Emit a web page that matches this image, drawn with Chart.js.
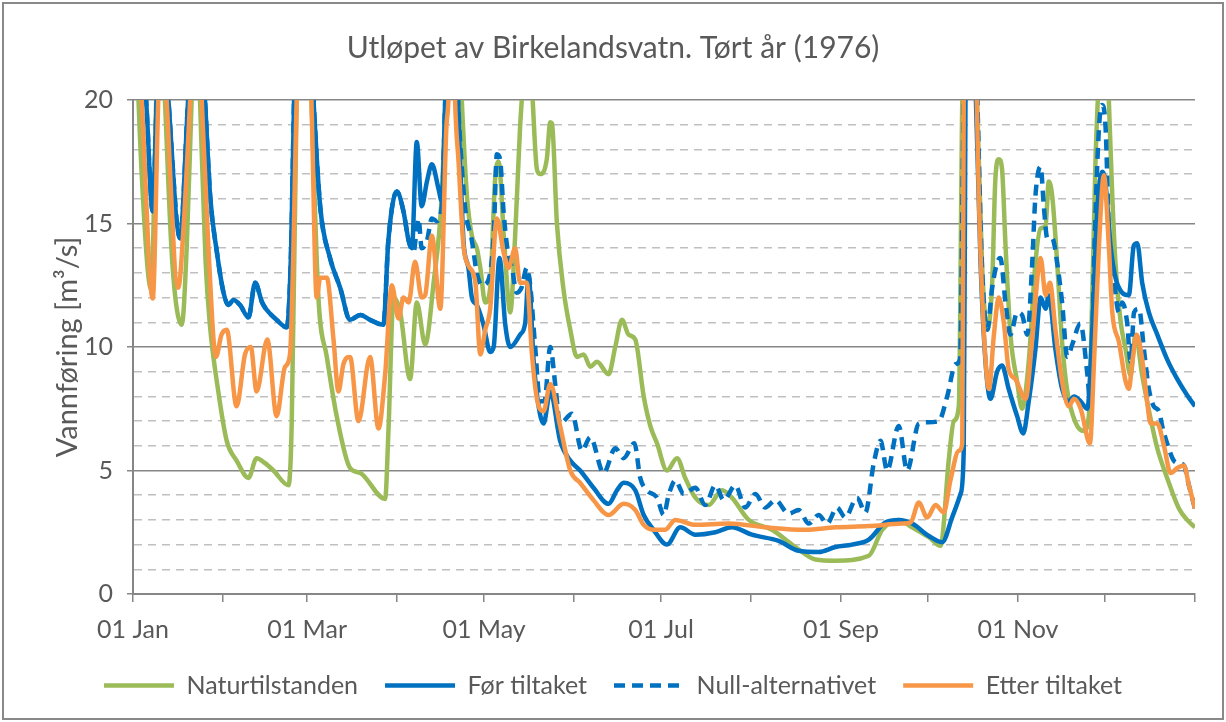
<!DOCTYPE html>
<html>
<head>
<meta charset="utf-8">
<title>Utløpet av Birkelandsvatn</title>
<script src="https://cdn.jsdelivr.net/npm/chart.js@4.4.0/dist/chart.umd.min.js"></script>
<style>
  html, body { margin: 0; padding: 0; background: #fff; }
  #wrap { position: relative; width: 1226px; height: 722px; }
  #frame { position: absolute; left: 2px; top: 2px; width: 1222px; height: 718px; box-sizing: border-box; border: 2px solid #898989; pointer-events: none; }
  canvas { position: absolute; left: 0; top: 0; }
</style>
</head>
<body>
<div id="wrap">
  <canvas id="flowChart" width="1226" height="722"></canvas>
  <div id="frame"></div>
</div>
<script>
// Month starts in 1976 (leap year), day of year counted from 01 Jan = 0
const monthStarts = [0, 31, 60, 91, 121, 152, 182, 213, 244, 274, 305, 335, 366];
const tickLabels = ['01 Jan', '', '01 Mar', '', '01 May', '', '01 Jul', '', '01 Sep', '', '01 Nov', '', ''];

// Naturtilstanden (values above 20 run off the top of the chart)
const naturDays = [0, 3, 6.3, 8, 9.5, 11, 13.5, 16.8, 18.5, 20.2,
  21.7, 23.1, 25, 26.5, 29.4, 32.3, 35.7, 39.8, 42.6, 45.5,
  48.4, 53.6, 54.7, 56.4, 58.5, 61.5, 63.9, 66.8, 70.2, 74.8,
  78.3, 86.9, 88, 89.8, 92.1, 95.5, 97.8, 100.7, 103.6, 106.4,
  108, 110.5, 113.3, 115.1, 116.8, 118.5, 119.7, 121.4, 123.1, 124.8,
  126, 128, 130, 131.7, 133.4, 134.6, 136, 137.5, 139.2, 140.4,
  142.6, 143.8, 144.4, 146.1, 148.4, 150.7, 153, 155.3, 157.6, 159.9,
  163.9, 166.2, 168.5, 170.8, 173.1, 176, 178.3, 180.6, 184, 187.5,
  190.3, 193.8, 198.4, 203, 206.4, 212.2, 220.2, 228.3, 235.2, 242,
  253.6, 258.2, 263.9, 268.5, 274.3, 278.3, 281.2, 282.9, 284.6, 285.8,
  288, 290.9, 292.6, 294.4, 296.1, 297.2, 298.4, 299.5, 300.7, 302.4,
  304.7, 306.4, 308.7, 311, 312.8, 314.5, 315.6, 316.8, 318.5, 320.2,
  322, 324.8, 327.7, 329.4, 330.6, 331.7, 332.5, 334.5, 336.3, 337.5,
  338.6, 340.4, 342.1, 343.8, 345.5, 347.8, 350.7, 353, 356.4, 360.5,
  363.3, 366];
const naturValues = [26, 17, 12.3, 20, 24, 20, 13.5, 10.9, 14, 20,
  25, 20, 13.5, 10.9, 8.2, 6.2, 5.4, 4.7, 5.5, 5.3,
  5.0, 4.4, 6.9, 20, 30, 20, 12.0, 9.6, 7.2, 5.1,
  4.9, 3.85, 6.5, 12.0, 11.4, 8.7, 11.8, 10.1, 12.6, 16.1,
  21, 28, 20, 16.1, 14.5, 14.0, 13.2, 11.8, 12.4, 16.8,
  17.5, 14.1, 11.4, 14.5, 18.9, 21, 23, 20.5, 17.2, 17.0,
  17.6, 19.1, 19.05, 15.0, 12.3, 10.7, 9.6, 9.7, 9.2, 9.4,
  8.9, 10.0, 11.1, 10.5, 10.3, 8.0, 6.8, 6.1, 5.0, 5.5,
  4.7, 3.9, 3.6, 4.2, 3.9, 3.0, 2.6, 1.9, 1.4, 1.35,
  1.55, 2.6, 3.0, 2.7, 2.3, 1.95, 5.5, 7.0, 7.6, 20,
  30, 20, 13.4, 10.7, 12.6, 16.8, 17.6, 17.2, 14.1, 10.5,
  8.6, 7.5, 9.4, 13.4, 14.8, 14.9, 16.7, 16.1, 13.4, 10.2,
  8.2, 6.95, 6.6, 7.2, 12.1, 17.5, 20, 26, 20, 16.1,
  13.4, 11.0, 9.9, 8.85, 10.5, 8.85, 7.1, 5.9, 4.7, 3.45,
  3.0, 2.7];

// Før tiltaket
const forDays = [0, 4.5, 6.8, 8.2, 10, 12.2, 16.2, 19, 22, 24.8,
  26.6, 28.9, 31.2, 32.9, 34.6, 36.9, 39.8, 42.1, 44.5, 46.1,
  49.5, 53, 54.5, 55.5, 58, 62.2, 64.5, 67.9, 71.4, 74.8,
  78.3, 81.7, 86.3, 88, 90.9, 93.2, 95, 96.1, 97.8, 99.5,
  101.3, 103, 105.3, 106.4, 107.6, 109.5, 112, 113.9, 115.6, 116.8,
  118.5, 120.8, 123.1, 124.3, 126.3, 128.3, 130, 133.4, 135.2, 136.3,
  138.1, 139.8, 141.5, 143.8, 147.2, 150.7, 154.1, 158.7, 163.9, 166.8,
  169.1, 173.1, 176, 179.4, 184, 188.6, 193.8, 200.7, 206.4, 213.3,
  222.5, 229.4, 236.3, 242.1, 247.8, 253.6, 259.3, 263.9, 268.5, 274.3,
  278.9, 282.3, 285.2, 286.3, 286.9, 288.5, 290.5, 292.1, 293.8, 295.5,
  297.8, 299.5, 301.8, 304.7, 306.8, 308.7, 311, 312.8, 314.5, 315.6,
  317.9, 320.2, 322.5, 324.3, 326.6, 328.9, 330.6, 332.3, 334, 335,
  336.9, 338.6, 340.9, 343.2, 344.9, 346.1, 347.8, 350.1, 353, 356.4,
  359.9, 363.3, 366];
const forValues = [26, 20, 15.5, 20, 24, 20, 14.4, 20, 25, 20,
  16.1, 13.85, 12.2, 11.7, 11.9, 11.7, 11.2, 12.6, 11.8, 11.5,
  11.1, 10.8, 14, 20, 30, 20, 15.7, 13.6, 12.4, 11.1,
  11.3, 11.1, 10.9, 14.3, 16.3, 15.5, 14.3, 14.0, 18.3, 15.7,
  16.7, 17.4, 16.4, 15.9, 20, 28, 20, 14.3, 13.2, 12.0,
  11.7, 10.9, 9.8, 10.0, 13.6, 10.9, 10.0, 10.5, 11.0, 12.9,
  9.4, 7.6, 6.9, 8.2, 6.2, 5.4, 5.0, 4.3, 3.65, 4.2,
  4.5, 4.2, 3.2, 2.6, 2.0, 2.7, 2.4, 2.5, 2.7, 2.4,
  2.15, 1.75, 1.7, 1.9, 2.0, 2.2, 2.9, 3.0, 2.85, 2.35,
  2.1, 3.1, 4.05, 5.8, 20, 30, 20, 13.4, 9.4, 7.9,
  9.0, 9.25, 8.3, 7.2, 6.5, 7.8, 9.9, 12.0, 11.55, 12.1,
  9.9, 8.3, 7.8, 8.0, 7.8, 7.5, 10.7, 15.5, 17.1, 16.8,
  14.1, 12.8, 12.2, 12.1, 14.1, 14.2, 12.6, 11.4, 10.5, 9.5,
  8.7, 8.05, 7.6];

// Null-alternativet (same as Før tiltaket until early April)
const nullDays = [0, 4.5, 6.8, 8.2, 10, 12.2, 16.2, 19, 22, 24.8,
  26.6, 28.9, 31.2, 32.9, 34.6, 36.9, 39.8, 42.1, 44.5, 46.1,
  49.5, 53, 54.5, 55.5, 58, 62.2, 64.5, 67.9, 71.4, 74.8,
  78.3, 81.7, 86.3, 88, 90.9,
  93.2, 95, 96.7, 97.8, 98.4, 99.5, 101.3, 103, 104.7, 106.4,
  107.6, 109.5, 112, 112.8, 114.5, 116.8, 118.5, 120.2, 122, 124.3,
  125.4, 126.5, 127.7, 128.9, 130.6, 132.3, 133.9, 135.7, 136.8, 138.6,
  140.3, 141.8, 143.8, 145.5, 147.2, 151.3, 154.7, 157.6, 162.2, 166.2,
  169.1, 172.8, 174.8, 177.1, 180.6, 182.9, 184.6, 186.9, 189.8, 193.8,
  197.2, 200.7, 203.6, 207.6, 211, 214.5, 217.9, 221.4, 226, 229.4,
  232.9, 236.3, 239.2, 242.6, 245.5, 249.5, 252.4, 255.3, 257.6, 259.9,
  263.9, 266.8, 270.8, 273.7, 277.7, 280.6, 283.5, 285, 286.3, 288.5,
  291, 292.5, 294.4, 296.1, 297.8, 298.9, 300.7, 302.4, 304.7, 306.4,
  308.2, 309.9, 311, 312.8, 313.9, 315.1, 316.8, 318.5, 320.2, 322,
  323.7, 326.5, 328.9, 330, 331.2, 332.9, 334, 335.2, 336.3, 338,
  339.8, 340.9, 342.6, 343.8, 345, 346.7, 348.4, 350.1, 351.8, 353.6,
  354.7, 356.4, 358.7, 360.5, 362.2, 363.9, 366];
const nullValues = [26, 20, 15.5, 20, 24, 20, 14.4, 20, 25, 20,
  16.1, 13.85, 12.2, 11.7, 11.9, 11.7, 11.2, 12.6, 11.8, 11.5,
  11.1, 10.8, 14, 20, 30, 20, 15.7, 13.6, 12.4, 11.1,
  11.3, 11.1, 10.9, 14.3, 16.3,
  15.5, 14.3, 13.85, 14.8, 15.2, 14.0, 14.3, 15.2, 15.1, 15.7,
  20, 28, 20, 18.2, 15.6, 14.3, 13.0, 12.5, 12.6, 14.5,
  17.8, 17.6, 15.5, 14.1, 13.2, 12.2, 12.4, 13.2, 12.6, 10.0,
  7.8, 7.8, 10.0, 8.5, 6.9, 7.3, 5.8, 6.35, 4.9, 5.9,
  5.5, 6.1, 4.7, 4.2, 3.9, 3.2, 4.0, 4.6, 4.05, 4.3,
  3.6, 4.4, 3.8, 4.4, 3.5, 4.05, 3.5, 3.8, 3.25, 3.4,
  2.85, 3.2, 2.85, 3.5, 3.1, 3.9, 3.3, 5.3, 6.2, 5.0,
  6.8, 5.0, 6.9, 6.95, 7.0, 8.0, 9.3, 9.5, 20, 30,
  20, 13.5, 10.7, 12.4, 13.4, 13.6, 11.8, 10.5, 11.4, 11.3,
  10.5, 13.4, 16.1, 17.3, 15.7, 14.4, 14.4, 13.4, 11.8, 9.6,
  10.1, 10.95, 8.9, 7.6, 13.4, 18.85, 19.8, 18.85, 14.8, 12.8,
  11.4, 11.8, 11.0, 9.4, 11.4, 11.55, 9.9, 8.3, 7.6, 7.4,
  6.8, 6.1, 5.4, 5.3, 5.2, 4.4, 3.45];

// Etter tiltaket
const etterDays = [0, 3, 6.8, 8.7, 10, 11.6, 15.6, 17.5, 19.7, 22,
  23.7, 26, 28.6, 30.5, 32.3, 35.7, 38.6, 40.6, 42.6, 46.3,
  49.5, 52.4, 54.1, 56.4, 58.5, 61.5, 63.3, 64.5, 66.8, 69.1,
  70.8, 72.5, 74.8, 77.7, 81.7, 84.6, 86.9, 89.2, 91.5, 93.2,
  95, 97.2, 99.5, 100.7, 103, 105.9, 108, 108.7, 110, 111,
  112.2, 113.9, 115.6, 118, 119.7, 121.4, 123.1, 125.4, 127.7, 129.4,
  131.7, 133.4, 135.7, 137.5, 139.2, 141.5, 143.8, 147.2, 150.7, 154.1,
  158.7, 163.9, 169.1, 173.1, 176, 179.4, 183.4, 186.9, 193.8, 205.3,
  217.9, 231.7, 242, 253.6, 265.1, 268, 270.8, 273.7, 276.6, 279.4,
  281.7, 284.6, 285.8, 286.3, 288.5, 290.8, 291.5, 293.2, 295, 296.7,
  298.4, 300.1, 301.8, 304.1, 307.6, 309.9, 312.8, 314.5, 316, 317.9,
  320.2, 322.5, 324.3, 326.6, 329.8, 331.2, 332.9, 334.6, 336.3, 337.5,
  339.8, 342.1, 343.2, 344.4, 345.9, 347.8, 349.5, 350.7, 353, 355.3,
  357.6, 359.9, 362.2, 363.9, 366];
const etterValues = [26, 20, 11.96, 20, 24, 20, 12.4, 15, 20, 25,
  20, 14, 9.6, 10.5, 10.7, 7.6, 9.7, 10.0, 8.2, 10.3,
  7.2, 9.2, 9.7, 20, 30, 20, 12.0, 12.8, 12.8, 10.3,
  8.2, 9.3, 9.6, 7.0, 9.6, 6.7, 8.9, 12.5, 11.15, 12.0,
  11.8, 13.45, 12.0, 12.1, 14.5, 11.55, 18.9, 20, 26, 20,
  17.5, 14.1, 13.3, 12.6, 9.7, 10.7, 11.55, 15.2, 13.85, 13.2,
  14.0, 12.6, 12.6, 9.7, 7.9, 7.4, 8.5, 6.8, 5.0, 4.5,
  3.8, 3.2, 3.65, 3.4, 2.8, 2.6, 2.6, 3.0, 2.8, 2.85,
  2.7, 2.6, 2.7, 2.75, 2.85, 2.9, 3.7, 3.1, 3.6, 3.3,
  4.6, 5.8, 6.1, 20, 30, 20, 16.1, 10.7, 8.3, 10.5,
  12.0, 11.0, 9.1, 8.7, 7.9, 10.3, 13.6, 12.1, 12.6, 10.7,
  8.6, 7.6, 7.9, 7.5, 6.1, 9.4, 14.1, 16.95, 14.1, 11.4,
  10.2, 8.6, 8.3, 9.4, 10.5, 9.5, 7.8, 6.9, 6.9, 6.0,
  4.9, 5.1, 5.2, 4.4, 3.45];

const textColor = '#595959';
const fontFamily = 'Lato, "Liberation Sans", sans-serif';
const majorGrid = '#868686';
const minorGrid = '#BFBFBF';
const lineWidth = 4.5;

// Function to pair days with values for the line datasets
function toPoints(days, values) {
    return days.map((d, i) => ({ x: d, y: values[i] }));
}

// Function to check if a y tick is a major one (every 5 m3/s)
function isMajor(ctx) {
    return ctx.tick && ctx.tick.value % 5 === 0;
}

function makeDataset(label, days, values, color, order, dash) {
    return {
        label: label,
        data: toPoints(days, values),
        borderColor: color,
        backgroundColor: color,
        borderWidth: lineWidth,
        borderDash: dash || [],
        pointRadius: 0,
        pointStyle: 'line',
        cubicInterpolationMode: 'monotone',
        clip: 0,
        order: order
    };
}

// Legend entries drawn as short line samples, dashed one included
function legendLabels(chart) {
    const items = Chart.defaults.plugins.legend.labels.generateLabels(chart);
    items.forEach(item => {
        const ds = chart.data.datasets[item.datasetIndex];
        item.lineDash = ds.borderDash;
        item.lineWidth = lineWidth;
        item.strokeStyle = ds.borderColor;
    });
    return items;
}

function renderChart() {
    const ctx = document.getElementById('flowChart').getContext('2d');

    new Chart(ctx, {
        type: 'line',
        data: {
            datasets: [
                makeDataset('Naturtilstanden', naturDays, naturValues, '#9BBB59', 3),
                makeDataset('Før tiltaket', forDays, forValues, '#0070C0', 2),
                makeDataset('Null-alternativet', nullDays, nullValues, '#0070C0', 1, [11, 7]),
                makeDataset('Etter tiltaket', etterDays, etterValues, '#F79646', 0)
            ]
        },
        options: {
            responsive: false,
            animation: false,
            devicePixelRatio: 1,
            layout: { padding: { top: 0, left: 0, right: 0, bottom: 14 } },
            plugins: {
                title: {
                    display: true,
                    text: 'Utløpet av Birkelandsvatn. Tørt år (1976)',
                    color: textColor,
                    font: { family: fontFamily, size: 30, weight: 'normal' },
                    padding: { top: 30, bottom: 34 }
                },
                legend: {
                    position: 'bottom',
                    labels: {
                        usePointStyle: true,
                        pointStyle: 'line',
                        pointStyleWidth: 70,
                        padding: 27,
                        color: textColor,
                        font: { family: fontFamily, size: 25 },
                        generateLabels: legendLabels,
                        sort: (a, b) => a.datasetIndex - b.datasetIndex
                    }
                },
                tooltip: { enabled: false }
            },
            scales: {
                x: {
                    type: 'linear',
                    min: 0,
                    max: 366,
                    afterBuildTicks: scale => {
                        scale.ticks = monthStarts.map(v => ({ value: v }));
                    },
                    afterFit: scale => {
                        scale.height = 52;
                        scale.paddingRight = 31;
                    },
                    ticks: {
                        autoSkip: false,
                        maxRotation: 0,
                        padding: 13,
                        color: textColor,
                        font: { family: fontFamily, size: 25 },
                        callback: (value, index) => tickLabels[index]
                    },
                    grid: { drawOnChartArea: false, color: majorGrid, lineWidth: 1.5, tickLength: 8 },
                    border: { color: majorGrid, width: 2 }
                },
                y: {
                    min: 0,
                    max: 20,
                    afterFit: scale => { scale.width = 133; },
                    ticks: {
                        stepSize: 1,
                        maxTicksLimit: 25,
                        autoSkip: false,
                        padding: 14,
                        color: textColor,
                        font: { family: fontFamily, size: 25 },
                        callback: v => (v % 5 === 0 ? v : '')
                    },
                    grid: {
                        color: ctx => (isMajor(ctx) ? majorGrid : minorGrid),
                        lineWidth: 1.5,
                        tickLength: 6,
                        tickColor: ctx => (isMajor(ctx) ? majorGrid : 'rgba(0,0,0,0)')
                    },
                    border: {
                        color: majorGrid,
                        width: 2,
                        dash: ctx => (ctx.tick && ctx.tick.value % 5 !== 0 ? [8, 6] : [])
                    },
                    title: {
                        display: true,
                        text: 'Vannføring [m³/s]',
                        color: textColor,
                        font: { family: fontFamily, size: 29 },
                        padding: { top: 50, bottom: 0 }
                    }
                }
            }
        }
    });
}

document.addEventListener('DOMContentLoaded', function () {
    renderChart();
});
</script>
</body>
</html>
